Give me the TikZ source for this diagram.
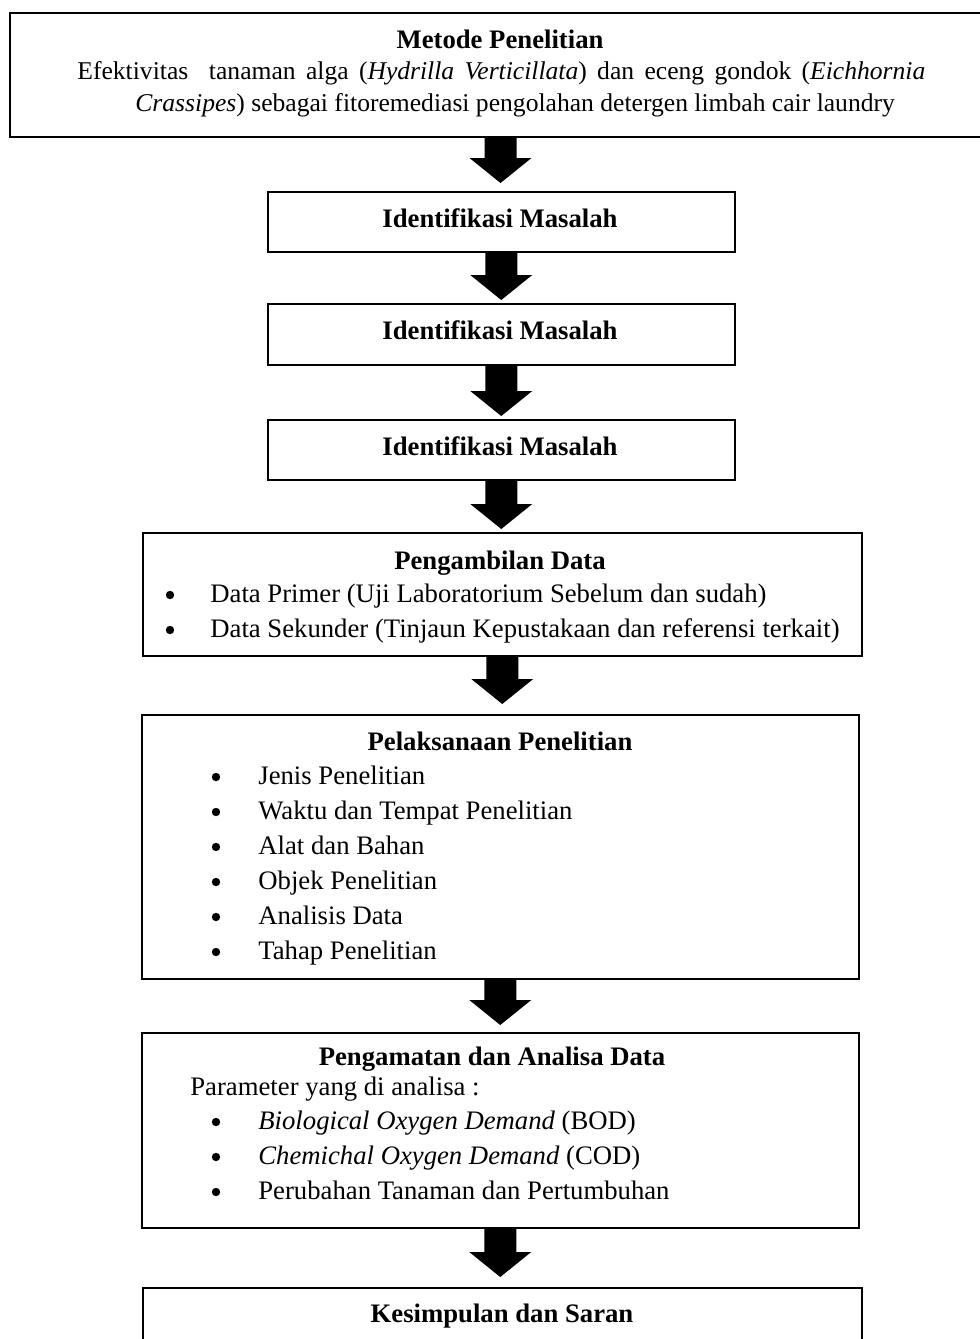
\documentclass[tikz,border=0pt]{standalone}
\usepackage{fontspec}
\setmainfont{Liberation Serif}
\usetikzlibrary{calc}
\newcommand\blockarrow[3]{%
  \fill let \p1=(#1.south), \p2=(#2.north) in
    (\x1-8pt,\y1) -- (\x1+8pt,\y1) -- (\x1+8pt,\y2+#3+12.5pt) --
    (\x1+15.5pt,\y2+#3+12.5pt) -- (\x1,\y2+#3) --
    (\x1-15.5pt,\y2+#3+12.5pt) -- (\x1-8pt,\y2+#3+12.5pt) -- cycle;}
\begin{document}
\begin{tikzpicture}[x=0.5pt,y=-0.5pt,
  font=\fontsize{13.35}{16}\selectfont,
  box/.style={draw, line width=0.75pt, inner sep=0pt, anchor=north west},
  txt/.style={anchor=base, inner sep=0pt},
  txtl/.style={anchor=base west, inner sep=0pt},
  dot/.style={circle, fill, inner sep=0pt, minimum size=4.2pt},
  ttl/.style={anchor=base, inner sep=0pt, font=\fontsize{13.35}{16}\selectfont\bfseries}]
\useasboundingbox (0,0) rectangle (980,1339);
\clip (0,0) rectangle (980,1339);
% boxes
\node[box, minimum width=490pt, minimum height=62pt] (b1) at (9,12) {};
\node[box, minimum width=233.5pt, minimum height=30pt] (b2) at (267,191) {};
\node[box, minimum width=233.5pt, minimum height=30.5pt] (b3) at (267,303) {};
\node[box, minimum width=233.5pt, minimum height=30pt] (b4) at (267,419) {};
\node[box, minimum width=359.5pt, minimum height=61.5pt] (b5) at (142,532) {};
\node[box, minimum width=358.5pt, minimum height=132pt] (b6) at (141,714) {};
\node[box, minimum width=358.5pt, minimum height=97.5pt] (b7) at (141,1032) {};
\node[box, minimum width=359.5pt, minimum height=50pt] (b8) at (142,1287) {};
% arrows
\coordinate (a1) at (500.5,136);
\fill let \p1=(a1), \p2=(b2.north) in
    (\x1-8pt,\y1) -- (\x1+8pt,\y1) -- (\x1+8pt,\y2+4pt+12.5pt) --
    (\x1+15.5pt,\y2+4pt+12.5pt) -- (\x1,\y2+4pt) --
    (\x1-15.5pt,\y2+4pt+12.5pt) -- (\x1-8pt,\y2+4pt+12.5pt) -- cycle;
\blockarrow{b2}{b3}{1.5pt}
\blockarrow{b3}{b4}{1.5pt}
\blockarrow{b4}{b5}{1.5pt}
\blockarrow{b5}{b6}{5pt}
\blockarrow{b6}{b7}{3.5pt}
\blockarrow{b7}{b8}{5pt}
% box 1
\node[ttl] (t1) at (500,48) {Metode Penelitian};
\node[txtl, font=\fontsize{12.8}{15}\selectfont] (t1a) at (77,79) {\makebox[424pt][s]{Efektivitas\ \ tanaman alga (\textit{Hydrilla Verticillata}) dan eceng gondok (\textit{Eichhornia}}};
\node[txtl, font=\fontsize{12.8}{15}\selectfont] (t1b) at (135,111) {\textit{Crassipes}) sebagai fitoremediasi pengolahan detergen limbah cair laundry};
% boxes 2-4
\node[ttl] (t2) at (500,227) {Identifikasi Masalah};
\node[ttl] (t3) at (500,339) {Identifikasi Masalah};
\node[ttl] (t4) at (500,455) {Identifikasi Masalah};
% box 5
\node[ttl] (t5) at (500,569) {Pengambilan Data};
\node[dot] (p5a) at (170,595) {};
\node[txtl] (l5a) at (210,602) {Data Primer (Uji Laboratorium Sebelum dan sudah)};
\node[dot] (p5b) at (170,630) {};
\node[txtl] (l5b) at (210,637) {Data Sekunder (Tinjaun Kepustakaan dan referensi terkait)};
% box 6
\node[ttl] (t6) at (500,750) {Pelaksanaan Penelitian};
\node[dot] (p6a) at (216,777) {};
\node[txtl] (l6a) at (258,784) {Jenis Penelitian};
\node[dot] (p6b) at (216,812) {};
\node[txtl] (l6b) at (258,819) {Waktu dan Tempat Penelitian};
\node[dot] (p6c) at (216,847) {};
\node[txtl] (l6c) at (258,854) {Alat dan Bahan};
\node[dot] (p6d) at (216,882) {};
\node[txtl] (l6d) at (258,889) {Objek Penelitian};
\node[dot] (p6e) at (216,917) {};
\node[txtl] (l6e) at (258,924) {Analisis Data};
\node[dot] (p6f) at (216,952) {};
\node[txtl] (l6f) at (258,959) {Tahap Penelitian};
% box 7
\node[ttl] (t7) at (492,1065) {Pengamatan dan Analisa Data};
\node[txtl] (l7p) at (190,1095) {Parameter yang di analisa :};
\node[dot] (p7a) at (216,1122) {};
\node[txtl] (l7a) at (258,1129) {\textit{Biological Oxygen Demand} (BOD)};
\node[dot] (p7b) at (216,1157) {};
\node[txtl] (l7b) at (258,1164) {\textit{Chemichal Oxygen Demand} (COD)};
\node[dot] (p7c) at (216,1192) {};
\node[txtl] (l7c) at (258,1199) {Perubahan Tanaman dan Pertumbuhan};
% box 8
\node[ttl] (t8) at (502,1322) {Kesimpulan dan Saran};
\end{tikzpicture}
\end{document}
